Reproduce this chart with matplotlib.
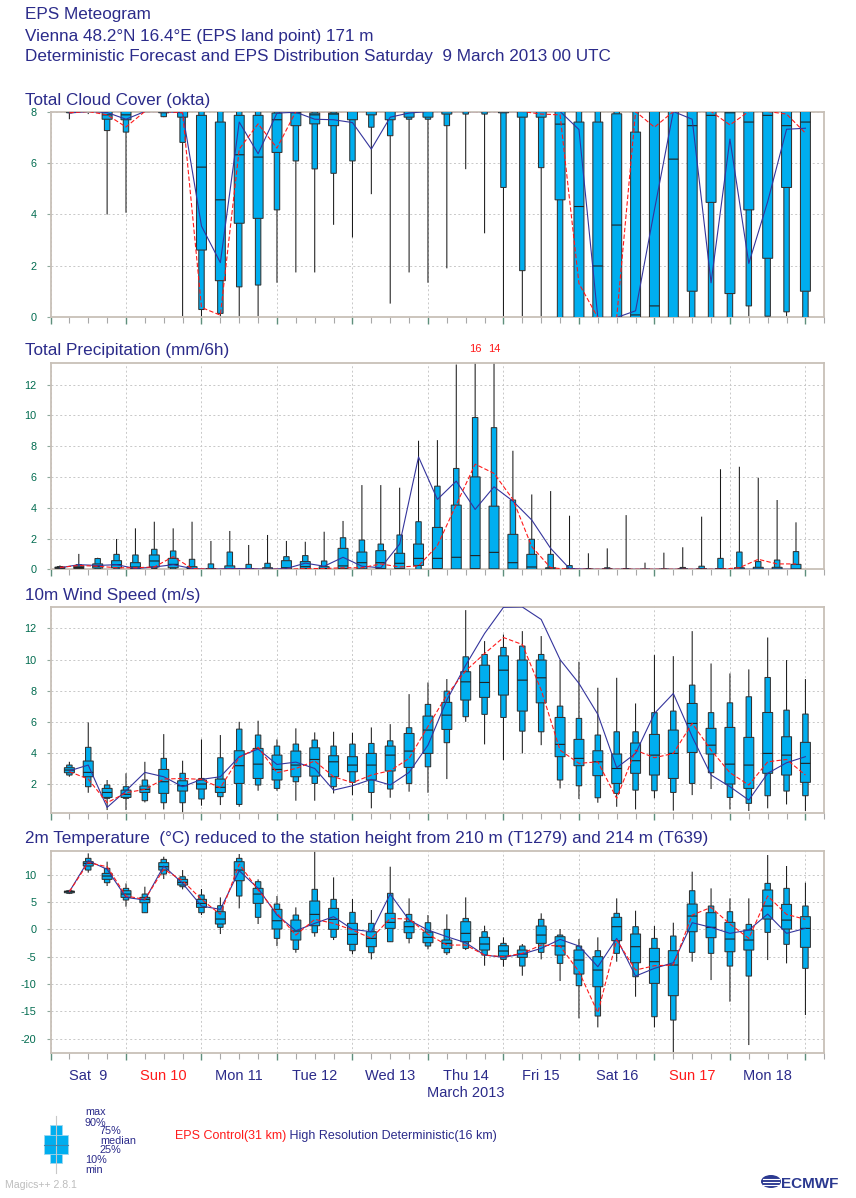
import matplotlib
matplotlib.use("Agg")
import matplotlib.pyplot as plt
import numpy as np
from matplotlib.patches import Rectangle, Ellipse
from matplotlib.ticker import MultipleLocator, NullFormatter

plt.rcParams["font.family"] = ["Liberation Sans", "DejaVu Sans"]
plt.rcParams["axes.unicode_minus"] = False

# forecast steps, days after Saturday 9 March 2013 00 UTC
steps = np.arange(1, 41) * 0.25
precip_steps = steps - 0.125  # 6h accumulations drawn mid interval

day_names = ["Sat  9", "Sun 10", "Mon 11", "Tue 12", "Wed 13",
             "Thu 14", "Fri 15", "Sat 16", "Sun 17", "Mon 18"]

# ---- total cloud cover (okta)
cloud_min = [7.7, 7.9, 4.0, 4.07, 7.95, 7.78, 0.05, 0.0, 0.0, 0.0,
             0.05, 1.35, 1.75, 1.75, 3.6, 3.11, 4.79, 0.54, 1.75, 1.35,
             1.91, 5.76, 3.27, 0.0, 0.05, 0.0, 0.0, 0.0, 0.0, 0.0,
             0.0, 0.0, 0.0, 0.0, 0.0, 0.0, 0.0, 0.0, 0.0, 0.0]
cloud_p10 = [7.95, 8.0, 7.26, 7.2, 8.0, 7.8, 6.8, 0.31, 0.16, 1.19,
             1.26, 4.18, 6.08, 5.77, 5.6, 6.08, 7.39, 7.06, 7.7, 7.7,
             7.45, 7.9, 7.9, 5.05, 1.82, 5.82, 0.0, 0.0, 0.0, 0.0,
             0.0, 0.0, 0.0, 0.0, 0.0, 0.0, 0.45, 0.05, 0.22, 0.0]
cloud_p25 = [8.0, 8.0, 7.7, 7.68, 8.0, 7.95, 7.78, 2.62, 1.43, 3.66,
             3.85, 6.41, 7.45, 7.52, 7.45, 7.68, 7.87, 7.68, 7.78, 7.78,
             7.9, 8.0, 8.0, 7.95, 7.78, 7.78, 4.57, 0.0, 0.0, 0.0,
             0.0, 0.0, 0.0, 1.02, 4.47, 0.93, 4.18, 2.3, 5.05, 1.02]
cloud_med = [8.0, 8.0, 7.87, 7.87, 8.0, 8.0, 8.0, 5.84, 4.57, 6.32,
             6.23, 7.68, 7.95, 7.87, 7.9, 8.0, 8.0, 8.0, 8.0, 8.0,
             8.0, 8.0, 8.0, 8.0, 8.0, 8.0, 7.51, 4.31, 2.0, 3.59,
             0.1, 0.45, 6.15, 7.45, 7.85, 7.95, 7.59, 7.85, 7.45, 7.59]
cloud_p75 = [8.0, 8.0, 8.0, 8.0, 8.0, 8.0, 8.0, 7.85, 7.59, 7.85,
             7.85, 7.94, 8.0, 7.94, 7.94, 8.0, 8.0, 8.0, 8.0, 8.0,
             8.0, 8.0, 8.0, 8.0, 8.0, 8.0, 8.0, 7.59, 7.59, 7.91,
             7.2, 8.0, 8.0, 8.0, 8.0, 8.0, 8.0, 8.0, 8.0, 8.0]
cloud_p90 = [8.0, 8.0, 8.0, 8.0, 8.0, 8.0, 8.0, 8.0, 8.0, 8.0,
             8.0, 8.0, 8.0, 8.0, 8.0, 8.0, 8.0, 8.0, 8.0, 8.0,
             8.0, 8.0, 8.0, 8.0, 8.0, 8.0, 8.0, 8.0, 8.0, 8.0,
             8.0, 8.0, 8.0, 8.0, 8.0, 8.0, 8.0, 8.0, 8.0, 8.0]
cloud_max = [8.0, 8.0, 8.0, 8.0, 8.0, 8.0, 8.0, 8.0, 8.0, 8.0,
             8.0, 8.0, 8.0, 8.0, 8.0, 8.0, 8.0, 8.0, 8.0, 8.0,
             8.0, 8.0, 8.0, 8.0, 8.0, 8.0, 8.0, 8.0, 8.0, 8.0,
             8.0, 8.0, 8.0, 8.0, 8.0, 8.0, 8.0, 8.0, 8.0, 8.0]
cloud_ctrl = [7.95, 8.0, 7.87, 7.4, 8.0, 8.0, 7.95, 0.39, 0.09, 6.54,
              7.52, 6.58, 8.0, 8.0, 8.0, 8.0, 8.0, 8.0, 8.0, 8.0,
              8.0, 8.0, 8.0, 8.0, 8.0, 7.9, 7.87, 1.32, 0.0, 0.0,
              8.0, 7.39, 8.0, 8.0, 8.0, 7.48, 8.0, 8.0, 7.9, 7.16]
cloud_hres = [7.94, 8.0, 7.96, 7.7, 8.0, 8.0, 7.95, 3.55, 2.13, 7.59,
              6.36, 7.94, 7.97, 7.7, 7.68, 7.57, 6.54, 7.78, 7.94, 8.0,
              8.0, 8.0, 8.0, 8.0, 8.0, 8.0, 8.0, 7.3, 0.0, 0.0,
              0.26, 4.18, 8.0, 7.7, 1.35, 6.93, 2.1, 4.5, 7.31, 7.35]

# ---- total precipitation (mm/6h)
precip_min = [0.0, 0.0, 0.0, 0.0, 0.0, 0.0, 0.0, 0.0, 0.0, 0.0,
              0.0, 0.0, 0.0, 0.0, 0.0, 0.0, 0.0, 0.0, 0.0, 0.0,
              0.0, 0.0, 0.0, 0.0, 0.0, 0.0, 0.0, 0.0, 0.0, 0.0,
              0.0, 0.0, 0.0, 0.0, 0.0, 0.0, 0.0, 0.0, 0.0, 0.0]
precip_p10 = [0.03, 0.02, 0.02, 0.02, 0.0, 0.05, 0.02, 0.0, 0.0, 0.0,
              0.0, 0.0, 0.0, 0.0, 0.0, 0.0, 0.0, 0.0, 0.0, 0.0,
              0.0, 0.0, 0.0, 0.0, 0.0, 0.0, 0.0, 0.0, 0.0, 0.0,
              0.0, 0.0, 0.0, 0.0, 0.0, 0.0, 0.0, 0.0, 0.0, 0.0]
precip_p25 = [0.06, 0.05, 0.08, 0.1, 0.05, 0.15, 0.1, 0.0, 0.0, 0.0,
              0.0, 0.0, 0.0, 0.05, 0.0, 0.05, 0.03, 0.05, 0.05, 0.25,
              0.05, 0.02, 0.05, 0.03, 0.02, 0.0, 0.0, 0.0, 0.0, 0.0,
              0.0, 0.0, 0.0, 0.0, 0.0, 0.0, 0.0, 0.0, 0.0, 0.0]
precip_med = [0.1, 0.12, 0.2, 0.3, 0.15, 0.54, 0.32, 0.05, 0.0, 0.02,
              0.0, 0.0, 0.1, 0.17, 0.05, 0.22, 0.43, 0.43, 0.39, 0.71,
              0.71, 0.78, 0.89, 1.1, 0.43, 0.15, 0.02, 0.0, 0.0, 0.0,
              0.0, 0.0, 0.0, 0.0, 0.0, 0.0, 0.0, 0.0, 0.0, 0.02]
precip_p75 = [0.14, 0.2, 0.35, 0.56, 0.43, 0.93, 0.71, 0.17, 0.04, 0.22,
              0.05, 0.1, 0.56, 0.5, 0.17, 1.36, 1.12, 1.21, 1.04, 1.64,
              2.72, 4.17, 6.0, 4.1, 2.27, 0.97, 0.1, 0.03, 0.0, 0.02,
              0.0, 0.0, 0.0, 0.02, 0.03, 0.05, 0.1, 0.13, 0.13, 0.32]
precip_p90 = [0.18, 0.3, 0.7, 0.97, 0.93, 1.3, 1.19, 0.65, 0.35, 1.12,
              0.32, 0.39, 0.82, 0.89, 0.54, 2.05, 1.9, 1.64, 2.23, 3.09,
              5.4, 6.55, 9.86, 9.2, 4.5, 1.95, 0.97, 0.24, 0.03, 0.1,
              0.04, 0.0, 0.01, 0.12, 0.2, 0.71, 1.12, 0.5, 0.6, 1.15]
precip_max = [0.25, 1.0, 0.75, 1.97, 2.66, 3.09, 2.66, 3.09, 1.84, 2.49,
              1.58, 2.23, 1.84, 1.79, 2.44, 3.14, 5.47, 5.47, 5.3, 8.35,
              8.39, 13.3, 16.0, 14.0, 7.7, 4.86, 5.08, 3.48, 1.04, 1.36,
              3.52, 0.43, 1.08, 1.43, 3.42, 6.5, 6.66, 5.95, 4.5, 3.05]
precip_ctrl = [0.12, 0.25, 0.2, 0.1, 0.1, 0.15, 0.82, 0.05, 0.0, 0.0,
               0.0, 0.0, 0.0, 0.05, 0.05, 0.1, 0.1, 0.35, 0.15, 0.22,
               1.54, 4.2, 6.83, 6.23, 4.54, 1.47, 0.1, 0.0, 0.0, 0.0,
               0.0, 0.0, 0.0, 0.0, 0.0, 0.0, 0.1, 0.65, 0.35, 0.35]
precip_hres = [0.1, 0.3, 0.25, 0.3, 0.05, 0.15, 0.3, 0.05, 0.0, 0.05,
               0.05, 0.0, 0.05, 0.4, 0.2, 0.78, 0.2, 0.1, 1.64, 7.3,
               4.54, 5.73, 3.89, 5.36, 4.43, 3.2, 1.36, 0.05, 0.0, 0.0,
               0.0, 0.0, 0.0, 0.0, 0.0, 0.0, 0.0, 0.0, 0.0, 0.0]

# ---- 10m wind speed (m/s)
wind_min = [2.47, 1.44, 0.33, 0.33, 0.82, 0.37, 0.12, 0.61, 0.65, 0.54,
            1.57, 1.57, 0.93, 0.93, 1.4, 1.29, 0.44, 1.12, 1.51, 1.44,
            2.32, 6.0, 4.55, 3.54, 3.97, 4.5, 1.72, 1.04, 0.8, 0.54,
            0.37, 1.08, 0.29, 1.29, 1.68, 0.37, 0.27, 0.44, 0.69, 0.27]
wind_p10 = [2.58, 1.83, 1.08, 1.08, 0.93, 0.8, 0.8, 1.04, 1.19, 0.69,
            1.94, 1.72, 2.15, 2.04, 1.83, 2.11, 1.46, 1.68, 2.04, 3.11,
            4.66, 6.33, 6.48, 6.28, 5.4, 5.36, 2.26, 1.89, 1.12, 1.4,
            1.61, 1.57, 1.46, 2.04, 2.73, 1.14, 0.76, 1.25, 1.55, 1.25]
wind_p25 = [2.73, 2.47, 1.14, 1.14, 1.46, 1.4, 1.55, 1.68, 1.46, 2.04,
            2.36, 2.26, 2.47, 2.51, 2.47, 2.79, 2.26, 2.84, 3.07, 3.97,
            5.51, 7.4, 7.57, 7.72, 6.69, 7.22, 3.76, 3.18, 2.54, 2.04,
            2.69, 2.58, 2.36, 4.03, 3.93, 2.0, 1.72, 2.69, 2.58, 2.11]
wind_med = [2.9, 2.75, 1.46, 1.34, 1.66, 2.15, 1.89, 2.0, 1.79, 3.18,
            3.28, 2.94, 3.22, 3.58, 3.43, 3.22, 3.22, 3.86, 4.12, 5.47,
            6.43, 8.57, 8.53, 9.32, 8.68, 8.83, 4.55, 3.65, 3.43, 3.0,
            3.5, 3.86, 3.97, 5.9, 4.5, 3.28, 3.22, 3.97, 3.86, 3.33]
wind_p75 = [3.05, 3.48, 1.72, 1.61, 1.87, 2.94, 2.21, 2.26, 2.32, 4.14,
            4.29, 3.86, 4.12, 4.33, 3.82, 3.76, 3.97, 4.44, 5.25, 6.37,
            7.25, 9.22, 9.64, 10.24, 9.97, 9.97, 6.28, 4.87, 4.14, 3.93,
            4.64, 5.19, 5.47, 7.18, 5.58, 5.64, 5.0, 6.6, 5.04, 4.68]
wind_p90 = [3.22, 4.36, 1.94, 1.83, 2.26, 3.65, 2.69, 2.36, 3.69, 5.53,
            5.15, 4.44, 4.57, 4.83, 4.44, 4.57, 4.61, 4.78, 5.62, 7.12,
            7.97, 10.18, 10.33, 10.78, 10.87, 10.33, 7.01, 6.22, 5.15, 5.36,
            5.36, 6.59, 6.69, 8.36, 6.59, 7.22, 7.61, 8.85, 6.75, 6.5]
wind_max = [3.43, 5.96, 2.26, 2.69, 3.43, 5.21, 3.5, 4.87, 5.15, 6.0,
            6.07, 4.87, 5.58, 5.32, 5.36, 5.3, 5.64, 5.85, 7.78, 8.53,
            8.75, 13.18, 11.19, 11.61, 11.83, 11.51, 9.97, 9.86, 8.19, 8.83,
            7.18, 10.29, 10.22, 11.83, 9.75, 9.11, 9.37, 11.42, 9.97, 8.75]
wind_ctrl = [2.8, 2.32, 0.8, 1.44, 1.66, 2.32, 2.36, 2.3, 1.76, 3.71,
             4.36, 2.73, 3.0, 3.48, 2.47, 2.09, 2.58, 2.86, 3.65, 5.7,
             7.72, 9.28, 10.39, 11.42, 10.97, 8.04, 4.18, 3.33, 3.43, 1.08,
             4.18, 3.69, 3.97, 5.9, 4.18, 2.73, 1.94, 3.43, 3.58, 2.58]
wind_hres = [2.85, 3.22, 0.5, 1.57, 2.75, 2.47, 1.83, 2.3, 2.47, 3.76,
             4.25, 3.26, 3.41, 3.0, 1.61, 1.89, 2.3, 1.94, 2.75, 4.5,
             7.4, 9.64, 11.68, 13.36, 13.38, 12.58, 10.0, 8.47, 6.48, 3.05,
             3.97, 6.54, 7.82, 5.04, 2.58, 1.83, 0.97, 2.69, 3.37, 3.76]

# ---- 2m temperature (C)
temp_min = [6.46, 10.37, 7.93, 4.15, 3.0, 9.21, 7.32, 2.62, -0.85, 3.84,
            0.98, -3.05, -4.27, -1.34, -1.95, -4.57, -5.49, -2.3, -2.56, -3.66,
            -4.7, -3.78, -6.65, -6.83, -8.48, -5.49, -9.45, -16.28, -17.93, -5.91,
            -12.32, -17.93, -22.5, -5.91, -9.27, -13.23, -21.16, -5.61, -6.22, -15.67]
temp_p10 = [6.6, 10.85, 8.54, 5.37, 3.05, 10.12, 7.8, 3.05, 0.37, 6.1,
            2.2, -1.65, -3.66, -0.61, -1.46, -3.9, -4.27, -2.26, -1.65, -3.05,
            -4.27, -3.48, -4.7, -5.49, -6.71, -4.21, -6.22, -10.3, -15.85, -4.39,
            -8.66, -15.98, -16.59, -4.21, -4.39, -6.71, -8.54, -0.55, -2.74, -7.13]
temp_p25 = [6.7, 11.59, 9.15, 5.85, 4.88, 10.85, 8.11, 4.02, 0.98, 8.9,
            4.76, 0.06, -1.95, 0.67, 0.0, -2.74, -3.17, 0.18, -0.61, -2.44,
            -3.48, -2.26, -3.78, -4.88, -5.12, -2.56, -4.7, -8.17, -10.49, -2.07,
            -6.1, -9.88, -12.13, -0.43, -1.52, -4.09, -3.78, 1.89, 0.06, -3.29]
temp_med = [6.9, 12.07, 9.76, 6.46, 5.49, 11.46, 8.6, 4.76, 1.89, 10.85,
            6.46, 1.58, -0.3, 2.74, 1.83, -0.91, -1.65, 1.28, 0.49, -1.46,
            -2.56, -0.73, -2.68, -3.96, -4.51, -1.04, -3.05, -5.61, -7.44, 0.49,
            -3.17, -5.91, -6.52, 2.44, 0.37, -1.77, -1.95, 4.27, 1.7, 0.18]
temp_p75 = [7.0, 12.38, 10.24, 7.07, 5.85, 12.2, 9.15, 5.49, 3.23, 12.38,
            7.5, 3.66, 1.7, 5.18, 3.84, 1.1, -0.43, 2.93, 1.4, -0.5,
            -1.95, 1.4, -1.46, -2.99, -3.78, 0.61, -1.34, -3.78, -5.0, 2.2,
            -0.85, -3.48, -3.9, 4.63, 3.05, 1.28, -0.12, 7.2, 4.57, 2.32]
temp_p90 = [7.07, 12.99, 11.16, 7.5, 6.46, 12.8, 9.63, 6.28, 4.33, 12.99,
            8.72, 4.63, 2.62, 7.32, 5.49, 3.11, 1.1, 6.59, 2.74, 1.22,
            0.0, 2.0, -0.43, -2.56, -3.05, 1.83, -1.04, -3.05, -3.9, 2.93,
            0.49, -1.65, -1.22, 7.07, 4.27, 3.23, 0.91, 8.41, 7.5, 4.27]
temp_max = [7.25, 13.9, 12.38, 8.41, 7.8, 13.29, 10.85, 7.38, 5.85, 13.78,
            9.15, 6.1, 4.02, 14.3, 9.51, 5.55, 3.54, 11.46, 5.67, 2.62,
            2.74, 5.85, 0.67, -1.46, -2.68, 2.93, 0.06, -1.77, -1.46, 5.67,
            3.41, 0.61, 1.22, 10.55, 7.5, 5.67, 5.67, 13.6, 11.59, 8.54]
temp_ctrl = [6.9, 12.2, 11.46, 6.1, 5.49, 10.98, 8.9, 5.49, 2.74, 11.95,
             7.2, 2.93, -1.04, 1.83, 1.1, -0.12, -1.65, 2.0, 1.89, -0.9,
             -2.87, -2.87, -4.7, -5.0, -4.39, -2.87, -3.05, -7.74, -15.24, -1.95,
             -7.44, -6.65, -6.52, 2.62, 4.02, 0.98, -1.65, 6.1, 2.74, 1.83]
temp_hres = [6.9, 12.56, 10.98, 5.85, 5.37, 11.59, 8.41, 4.27, 3.66, 10.73,
             7.5, 2.62, -0.24, 1.1, 2.32, 0.0, -0.43, 6.46, 1.7, -0.12,
             -1.34, -2.44, -4.7, -5.12, -4.51, -3.48, -1.83, -3.05, -6.83, -1.65,
             -8.54, -7.13, -6.1, 1.22, 0.37, -0.73, -0.12, 2.8, -0.73, 0.18]

BOX = "#00aeef"
RED = "#ff1a1a"
BLUE = "#34349c"
NAVY = "#2b2b8a"
TICK = "#006b4f"
FRAME = "#c8c0b8"

W, H = 856, 1198
fig = plt.figure(figsize=(W / 100, H / 100), dpi=100)

# pixel-space overlay for titles and legend
bg = fig.add_axes([0, 0, 1, 1])
bg.set_xlim(0, W)
bg.set_ylim(H, 0)
bg.axis("off")


def panel(top, bottom):
    left, right = 50.5, 824.3
    return fig.add_axes([left / W, 1 - bottom / H, (right - left) / W, (bottom - top) / H])


def style(ax, ylim, yticks):
    ax.set_xlim(0, 10.25)
    ax.set_ylim(*ylim)
    ax.set_yticks(yticks)
    ax.xaxis.set_major_locator(MultipleLocator(1))
    ax.xaxis.set_minor_locator(MultipleLocator(0.25))
    ax.xaxis.set_major_formatter(NullFormatter())
    ax.grid(True, which="major", color="#c8c8c8", lw=0.7, ls=(0, (2, 2.5)))
    ax.set_axisbelow(True)
    for s in ax.spines.values():
        s.set_color(FRAME)
        s.set_linewidth(1.3)
    ax.tick_params(axis="y", length=3, width=0.8, color="#8fa89c",
                   labelcolor=TICK, labelsize=7.8, pad=7)
    ax.tick_params(axis="x", which="major", length=5, width=1, color="#5f8f7c")
    ax.tick_params(axis="x", which="minor", length=4, width=0.8, color="#a8a8a8")


def draw_eps(ax, x, q, ctrl, hres, narrow=0.072, wide=0.132):
    mn, p10, p25, med, p75, p90, mx = (np.asarray(v, float) for v in q)
    ax.vlines(x, mn, mx, colors="#1a1a1a", lw=0.75, snap=False, zorder=2)
    ax.bar(x, p90 - p10, bottom=p10, width=narrow, color=BOX,
           edgecolor="#333333", lw=0.75, snap=False, zorder=3)
    ax.bar(x, p75 - p25, bottom=p25, width=wide, color=BOX,
           edgecolor="#333333", lw=0.75, snap=False, zorder=3)
    ax.hlines(med, x - wide / 2, x + wide / 2, colors="#222222", lw=0.8,
              snap=False, zorder=4)
    ax.plot(x, hres, color=BLUE, lw=0.8, zorder=5)
    ax.plot(x, ctrl, color=RED, lw=0.8, ls=(0, (4, 2)), zorder=6)


ax_cloud = panel(111.5, 317.5)
style(ax_cloud, (0, 8), [0, 2, 4, 6, 8])
draw_eps(ax_cloud, steps,
         (cloud_min, cloud_p10, cloud_p25, cloud_med, cloud_p75, cloud_p90, cloud_max),
         cloud_ctrl, cloud_hres)

ax_prec = panel(363, 569.3)
style(ax_prec, (0, 13.4), [0, 2, 4, 6, 8, 10, 12])
draw_eps(ax_prec, precip_steps,
         (precip_min, precip_p10, precip_p25, precip_med, precip_p75, precip_p90, precip_max),
         precip_ctrl, precip_hres)
# maxima beyond the axis are written above the frame
top = ax_prec.get_ylim()[1]
for xv, mv in zip(precip_steps, precip_max):
    if mv > top:
        ax_prec.annotate(f"{mv:.0f}", (xv, 1), xycoords=("data", "axes fraction"),
                         xytext=(0, 8), textcoords="offset points", ha="center",
                         va="baseline", color=RED, fontsize=8)

ax_wind = panel(606.7, 813.3)
style(ax_wind, (0.12, 13.4), [2, 4, 6, 8, 10, 12])
draw_eps(ax_wind, steps,
         (wind_min, wind_p10, wind_p25, wind_med, wind_p75, wind_p90, wind_max),
         wind_ctrl, wind_hres)

ax_temp = panel(850.7, 1053.3)
style(ax_temp, (-22.67, 14.39), [-20, -15, -10, -5, 0, 5, 10])
draw_eps(ax_temp, steps,
         (temp_min, temp_p10, temp_p25, temp_med, temp_p75, temp_p90, temp_max),
         temp_ctrl, temp_hres)

for i, name in enumerate(day_names):
    ax_temp.annotate(name, (i + 0.5, 0), xycoords=("data", "axes fraction"),
                     xytext=(0, -19.2), textcoords="offset points", ha="center",
                     va="baseline", fontsize=10.5,
                     color=RED if name.startswith("Sun") else NAVY)
ax_temp.annotate("March 2013", (5.5, 0), xycoords=("data", "axes fraction"),
                 xytext=(0, -31.2), textcoords="offset points", ha="center",
                 va="baseline", fontsize=10.5, color=NAVY)

# titles
tsize = 12.3
bg.text(25.5, 19, "EPS Meteogram", fontsize=tsize, color=NAVY, va="baseline")
bg.text(25.5, 40.5, "Vienna 48.2\u00b0N 16.4\u00b0E (EPS land point) 171 m",
        fontsize=tsize, color=NAVY, va="baseline")
bg.text(25.5, 61.5, "Deterministic Forecast and EPS Distribution Saturday  9 March 2013 00 UTC",
        fontsize=tsize, color=NAVY, va="baseline")
bg.text(25.5, 105, "Total Cloud Cover (okta)", fontsize=tsize, color=NAVY, va="baseline")
bg.text(25.5, 355.5, "Total Precipitation (mm/6h)", fontsize=tsize, color=NAVY, va="baseline")
bg.text(25.5, 600, "10m Wind Speed (m/s)", fontsize=tsize, color=NAVY, va="baseline")
bg.text(25.5, 843, "2m Temperature  (\u00b0C) reduced to the station height from 210 m (T1279) and 214 m (T639)",
        fontsize=tsize, color=NAVY, va="baseline")

# box legend
bg.plot([56, 56], [1116, 1173], color="#c8c8c8", lw=0.8)
bg.add_patch(Rectangle((50, 1125), 11.7, 38, facecolor=BOX, edgecolor="#9fd6ee", lw=0.6))
bg.add_patch(Rectangle((44.3, 1135), 24, 19, facecolor=BOX, edgecolor="#9fd6ee", lw=0.6))
bg.plot([44.3, 68.3], [1144.5, 1144.5], color="#3a86ad", lw=0.8)
for label, lx, ly in [("max", 85, 1115), ("90%", 85, 1125.5), ("75%", 100, 1134),
                      ("median", 100, 1143.5), ("25%", 100, 1153), ("10%", 85, 1163),
                      ("min", 85, 1173)]:
    bg.text(lx, ly, label, fontsize=7.8, color=NAVY, va="baseline")

red_txt = bg.text(175, 1139, "EPS Control(31 km)", fontsize=9, color=RED, va="baseline")
bg.annotate(" High Resolution Deterministic(16 km)", xy=(1, 0), xycoords=red_txt,
            fontsize=9, color=NAVY, va="bottom")

bg.text(5.5, 1188, "Magics++ 2.8.1", fontsize=7.6, color="#bdbdbd", va="baseline")

# ECMWF mark
bg.add_patch(Ellipse((771, 1181.5), 20, 13, facecolor="#2b3990", edgecolor="none"))
for yy in (1178.5, 1181.5, 1184.5):
    bg.plot([763, 779], [yy, yy], color="white", lw=0.8)
bg.text(781, 1188, "ECMWF", fontsize=11, fontweight="bold", color="#2b3990", va="baseline")

fig.savefig("out.png", dpi=100)
